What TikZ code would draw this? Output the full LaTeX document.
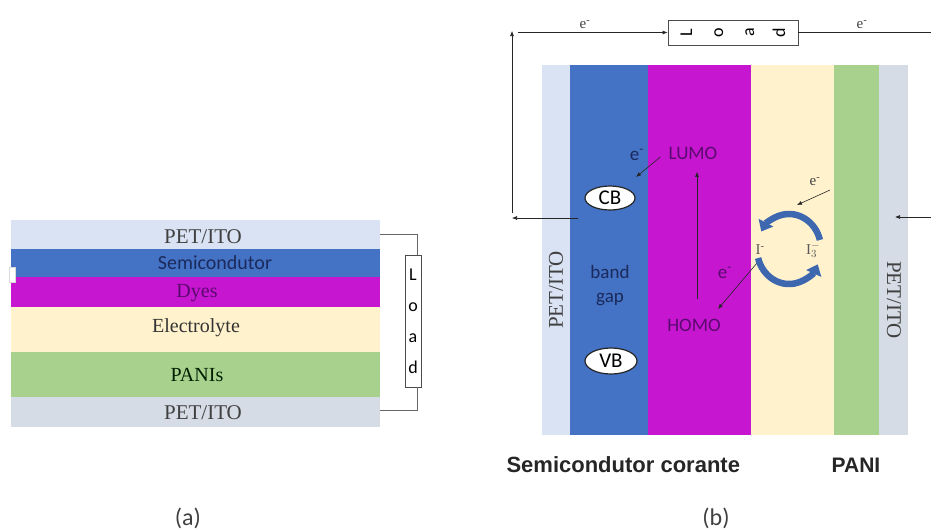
\documentclass[tikz,border=0pt]{standalone}
\usepackage{fontspec}
\setmainfont{Liberation Serif}
\newfontfamily\calfont{Carlito}
\newfontfamily\arfont{Liberation Sans}
\usetikzlibrary{shapes.geometric,arrows.meta}
\definecolor{petblue}{HTML}{DAE3F3}
\definecolor{petgray}{HTML}{D6DCE5}
\definecolor{semblue}{HTML}{4472C4}
\definecolor{dyemag}{HTML}{C616D0}
\definecolor{elecream}{HTML}{FFF2CC}
\definecolor{panigreen}{HTML}{A9D18E}
\definecolor{navytxt}{HTML}{1B2A5C}
\definecolor{purptxt}{HTML}{5A0A6E}
\definecolor{cycblue}{HTML}{3D68B0}

\begin{document}
\begin{tikzpicture}[x=1pt,y=-1pt,
		layer/.style={rectangle, inner sep=0pt, anchor=north west},
		serlbl/.style={font=\fontsize{20}{20}\selectfont, text=black!75},
		callbl/.style={font=\calfont\fontsize{19}{19}\selectfont},
		loadbox/.style={draw=black!70, fill=white, line width=0.8pt, inner sep=0pt, align=center, font=\calfont\fontsize{18}{31}\selectfont},
		wire/.style={draw=black!60, line width=0.8pt},
		arr/.style={-{Latex[length=5pt,width=4pt]}, line width=0.6pt, black!85},
		band/.style={ellipse, draw=black!85, fill=white, line width=1.2pt, inner sep=0pt, minimum width=50pt, minimum height=24pt, font=\calfont\fontsize{21}{21}\selectfont},
		cyc/.style={cycblue, line width=6.5pt, -{Triangle[width=16pt,length=10pt]}}]
	\useasboundingbox (0,0) rectangle (931,531);
	% (a) Layers
	\node[layer, fill=petblue, minimum width=369pt, minimum height=29pt] (petA1) at (11,220) {};
	\node[layer, fill=semblue, minimum width=369pt, minimum height=28pt] (semA) at (11,249) {};
	\node[layer, fill=dyemag, minimum width=369pt, minimum height=30pt] (dyeA) at (11,277) {};
	\node[layer, fill=elecream, minimum width=369pt, minimum height=45pt] (eleA) at (11,307) {};
	\node[layer, fill=panigreen, minimum width=369pt, minimum height=45pt] (paniA) at (11,352) {};
	\node[layer, fill=petgray, minimum width=369pt, minimum height=30pt] (petA2) at (11,397) {};
	\node[draw=black!15, fill=white, inner sep=0pt, minimum width=6pt, minimum height=15pt] (tabA) at (12,274.5) {};
	\node[serlbl, font=\fontsize{21}{21}\selectfont] (petA1txt) at (203,237) {PET/ITO};
	\node[font=\calfont\fontsize{20}{20}\selectfont, text=navytxt] (semAtxt) at (215,263) {Semicondutor};
	\node[serlbl, text=purptxt] (dyeAtxt) at (197,293) {Dyes};
	\node[serlbl, text=black!80] (eleAtxt) at (196,328) {Electrolyte};
	\node[serlbl, text=black!70!green!40!black] (paniAtxt) at (197,375) {PANIs};
	\node[serlbl, font=\fontsize{21}{21}\selectfont] (petA2txt) at (203,413) {PET/ITO};
	% (a) Load
	\node[loadbox, minimum width=16pt, minimum height=132pt] (loadA) at (413,321) {L\\o\\a\\d};
	\coordinate (wA1) at (417,234);
	\coordinate (wA2) at (417,410);
	\draw[wire] (petA1.east |- wA1) -- (wA1) -- (wA1 |- loadA.north);
	\draw[wire] (wA2 |- loadA.south) -- (wA2) -- (petA2.east |- wA2);

	% (b) Layers
	\node[layer, fill=petblue, minimum width=28pt, minimum height=370pt] (petB1) at (542,65) {};
	\node[layer, fill=semblue, minimum width=78pt, minimum height=370pt] (semB) at (570,65) {};
	\node[layer, fill=dyemag, minimum width=103pt, minimum height=370pt] (dyeB) at (648,65) {};
	\node[layer, fill=elecream, minimum width=83pt, minimum height=370pt] (eleB) at (751,65) {};
	\node[layer, fill=panigreen, minimum width=45pt, minimum height=370pt] (paniB) at (834,65) {};
	\node[layer, fill=petgray, minimum width=29pt, minimum height=370pt] (petB2) at (879,65) {};
	\node[serlbl, rotate=90, font=\fontsize{21}{21}\selectfont] (petB1txt) at (556,290) {PET/ITO};
	\node[serlbl, rotate=-90, font=\fontsize{21}{21}\selectfont] (petB2txt) at (894,300) {PET/ITO};
	% (b) Load and circuit
	\node[loadbox, rotate=90, minimum width=25pt, minimum height=130pt] (loadB) at (733,32.5) {L\\o\\a\\d};
	\coordinate (cbw) at (578,218);
	\coordinate (cornB1) at (512,218);
	\coordinate (cornB2) at (512,31);
	\coordinate (topB) at (518,32.5);
	\coordinate (rtop) at (931,32.5);
	\coordinate (rmid) at (931,217);
	\coordinate (petB2tip) at (895,217);
	\draw[arr] (cbw) -- (cornB1);
	\draw[arr, shorten <=5pt] (cornB1) -- (cornB2);
	\draw[arr] (topB) -- (loadB.north);
	\draw[black!85, line width=0.6pt] (loadB.south) -- (rtop);
	\draw[arr] (rmid) -- (petB2tip);
	\node[font=\fontsize{15}{15}\selectfont, text=black!75] (eTopL) at (585,25) {e\textsuperscript{-}};
	\node[font=\fontsize{15}{15}\selectfont, text=black!75] (eTopR) at (862,25) {e\textsuperscript{-}};
	% (b) Bands
	\node[band] (cb) at (610,198) {CB};
	\node[band, minimum width=52pt, minimum height=26pt] (vb) at (611,361) {VB};
	\node[callbl, text=navytxt, align=center, font=\calfont\fontsize{19}{24}\selectfont] (gap) at (610,286) {band\\gap};
	\node[callbl, text=navytxt] (ecb) at (637,155) {e\textsuperscript{-}};
	\node[callbl, text=purptxt] (lumo) at (693,153) {LUMO};
	\node[callbl, text=purptxt] (homo) at (694,325) {HOMO};
	\node[callbl, text=purptxt] (ehomo) at (725,273) {e\textsuperscript{-}};
	\coordinate (cbtip) at (636,177);
	\draw[arr, shorten <=6pt] (lumo.west) -- (cbtip);
	\draw[arr, shorten <=16pt, shorten >=9pt] ([xshift=3pt]homo.north) -- ([xshift=4pt]lumo.south);
	\coordinate (ihomotail) at (757,263);
	\coordinate (homotip) at (718,309);
	\draw[arr] (ihomotail) -- (homotip);
	% (b) Redox cycle
	\coordinate (cycc) at (789,249);
	\draw[cyc] (cycc) ++(-15:32 and 35) arc[start angle=-15, end angle=-150, x radius=32, y radius=35];
	\draw[cyc] (cycc) ++(165:32 and 35) arc[start angle=165, end angle=26, x radius=32, y radius=35];
	\node[font=\fontsize{15}{15}\selectfont, text=black!65] (iminus) at (760,250) {I\textsuperscript{-}};
	\node[font=\fontsize{15}{15}\selectfont, text=black!65, inner sep=1pt] (ithree) at (813,250) {$\mathrm{I}_3^-$};
	\node[font=\fontsize{15}{15}\selectfont, text=black!75] (eele) at (815,182) {e\textsuperscript{-}};
	\coordinate (eltail) at (830,190);
	\coordinate (elhead) at (797,205);
	\draw[arr] (eltail) -- (elhead);
	% Captions
	\node[anchor=west, font=\arfont\bfseries\fontsize{22}{22}\selectfont, text=black!85] (semlbl) at (503,465) {Semicondutor corante};
	\node[font=\arfont\bfseries\fontsize{21}{21}\selectfont, text=black!85] (panilbl) at (856,465) {PANI};
	\node[font=\calfont\fontsize{24}{24}\selectfont, text=black!75] (capa) at (188,518) {(a)};
	\node[font=\calfont\fontsize{24}{24}\selectfont, text=black!75] (capb) at (716,518) {(b)};
\end{tikzpicture}
\end{document}
